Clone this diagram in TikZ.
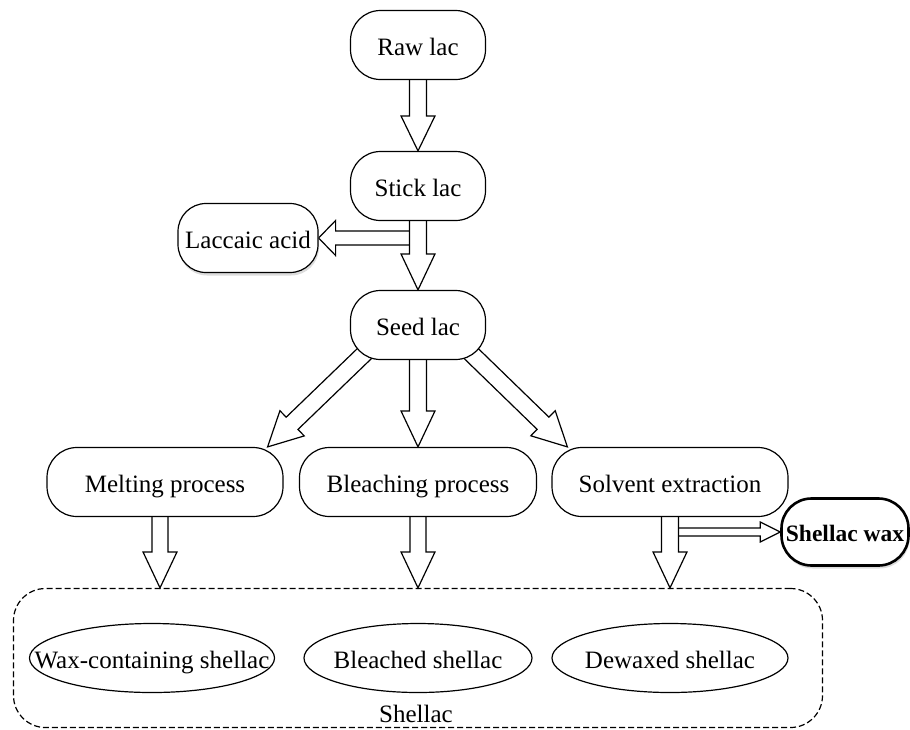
\documentclass[tikz,border=0pt]{standalone}
\usepackage{fontspec}
\setmainfont{Liberation Serif}
\usetikzlibrary{calc,shapes.geometric,shadows,backgrounds}

% Hollow block arrow: [extra options]{tail}{tip}{half shaft width}{half head width}{head length}
\newcommand\flowarrow[6][]{%
  \coordinate (ba-t) at (#2);
  \coordinate (ba-p) at (#3);
  \coordinate (ba-h) at ($(ba-p)!#6!(ba-t)$);
  \draw[arrowbody,#1]
    ($(ba-t)!#4!90:(ba-p)$) -- ($(ba-h)!#4!90:(ba-p)$) -- ($(ba-h)!#5!90:(ba-p)$)
    -- (ba-p)
    -- ($(ba-h)!#5!-90:(ba-p)$) -- ($(ba-h)!#4!-90:(ba-p)$) -- ($(ba-t)!#4!-90:(ba-p)$);
}

\tikzset{
  txt/.style={font=\fontsize{25pt}{30pt}\selectfont, text height=23pt, text depth=2pt},
  stage/.style={txt, draw, line width=1.2pt, fill=white, rounded corners=30pt,
    minimum height=69pt, inner sep=0pt},
  product/.style={draw, ellipse, line width=1.2pt, fill=white, minimum height=69pt, inner sep=0pt},
  sideproduct/.style={stage, drop shadow={shadow xshift=1pt, shadow yshift=-3pt, fill=gray!55}},
  arrowbody/.style={draw, line width=1.2pt, fill=white, line join=miter},
  group/.style={draw, dash pattern=on 6pt off 3pt, line width=1.2pt, rounded corners=32pt, inner sep=0pt},
}

\begin{document}
\begin{tikzpicture}[x=1pt, y=-1pt]
\useasboundingbox (0,0) rectangle (910,729);

% process stages
\node[stage, minimum width=135pt] (raw) at (418,45) {Raw lac};
\node[stage, minimum width=135pt] (stick) at (418,186) {Stick lac};
\node[sideproduct, minimum width=140pt, rounded corners=28pt] (laccaic) at (248,238) {Laccaic acid};
\node[stage, minimum width=135pt] (seed) at (418,325) {Seed lac};
\node[stage, minimum width=236pt] (melting) at (165,482) {Melting process};
\node[stage, minimum width=237pt] (bleaching) at (418,482) {Bleaching process};
\node[stage, minimum width=236pt] (solvent) at (670,482) {Solvent extraction};
\node[sideproduct, minimum width=127pt, minimum height=67pt, line width=2.6pt,
  font=\bfseries\fontsize{23.5pt}{28pt}\selectfont, text height=22pt, text depth=4pt] (wax) at (845,532) {Shellac wax};

% shellac products
\node[group, minimum width=809pt, minimum height=139pt] (shellac) at (418,658) {};
\node[product, minimum width=245pt, label={[txt]center:Wax-containing shellac}] (waxcont) at (152,658) {};
\node[product, minimum width=228pt, label={[txt]center:Bleached shellac}] (bleached) at (418,658) {};
\node[product, minimum width=236pt, label={[txt]center:Dewaxed shellac}] (dewaxed) at (670,658) {};
\node[font=\fontsize{25pt}{30pt}\selectfont, anchor=base] (shellaclabel) at (416,722) {Shellac};

% connectors
\begin{pgfonlayer}{background}
  \flowarrow{raw.center}{stick.north}{8.5pt}{17pt}{35pt}
  \coordinate (lacbranch) at (stick.center |- laccaic.east);
  \flowarrow{lacbranch}{laccaic.east}{7pt}{17.5pt}{17pt}
  \flowarrow{stick.center}{seed.north}{8.5pt}{17pt}{36pt}

  \coordinate (seedfork) at ($(seed.north)+(0,12)$);
  \coordinate (meltin) at ($(melting.north east)+(-16,0)$);
  \coordinate (solvin) at ($(solvent.north west)+(16,0)$);
  \flowarrow{seedfork}{meltin}{8.5pt}{17.5pt}{34pt}
  \flowarrow{seedfork}{solvin}{8.5pt}{17.5pt}{34pt}
  \flowarrow{seed.center}{bleaching.north}{8.5pt}{17pt}{36pt}

  \coordinate (meltout) at ($(melting.center)+(-5,0)$);
  \flowarrow{meltout}{meltout |- shellac.north}{8pt}{17pt}{36pt}
  \flowarrow{bleaching.center}{bleaching.center |- shellac.north}{8pt}{17pt}{36pt}
  \coordinate (waxbranch) at (solvent.center |- wax.west);
  \flowarrow{waxbranch}{wax.west}{4pt}{10pt}{20pt}
  \flowarrow{solvent.center}{solvent.center |- shellac.north}{8.5pt}{17pt}{36pt}
\end{pgfonlayer}
\end{tikzpicture}
\end{document}
